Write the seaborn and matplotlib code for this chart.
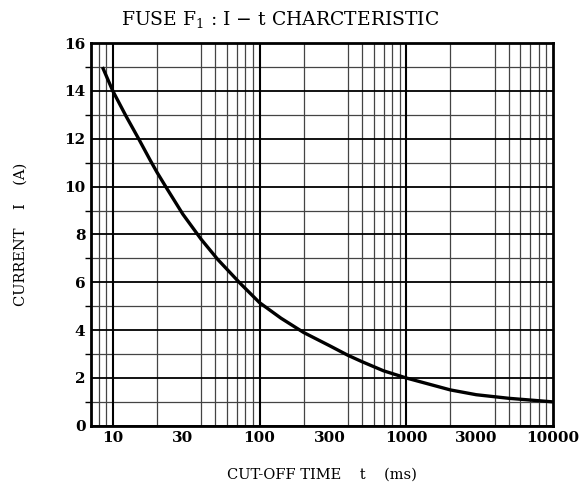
import numpy as np
import pandas as pd
import matplotlib
matplotlib.use("Agg")
import matplotlib.pyplot as plt
import matplotlib.ticker as mticker
import seaborn as sns

tiempo_ms = [8.5, 10, 12.3, 15, 18, 20, 23.2, 30, 40, 52, 74, 100, 140, 200, 300, 400, 500, 700, 1000, 2000, 3000, 5000, 10000]
corriente_a = [15.0, 14.0, 12.95, 12.0, 11.1, 10.6, 9.95, 8.85, 7.8, 6.95, 5.95, 5.15, 4.5, 3.9, 3.35, 2.95, 2.68, 2.3, 2.0, 1.5, 1.3, 1.15, 1.0]
xticks = [10, 30, 100, 300, 1000, 3000, 10000]
yticks = [0, 2, 4, 6, 8, 10, 12, 14, 16]

df = pd.DataFrame({'t': tiempo_ms, 'I': corriente_a})

sns.set_style("white")
plt.rcParams['font.family'] = ['DejaVu Serif']
plt.rcParams['mathtext.fontset'] = 'dejavuserif'
plt.rcParams['text.color'] = 'black'
plt.rcParams['axes.labelcolor'] = 'black'
plt.rcParams['xtick.color'] = 'black'
plt.rcParams['ytick.color'] = 'black'

fig = plt.figure(figsize=(5.87, 4.90), dpi=100)
ax = fig.add_axes([0.155, 0.131, 0.787, 0.781])

sns.lineplot(data=df, x='t', y='I', color='black', linewidth=2.4, ax=ax, zorder=5,
             solid_joinstyle='round', solid_capstyle='butt')

ax.set_xscale('log')
ax.set_xlim(7.1, 10000)
ax.set_ylim(0, 16)

ax.xaxis.set_major_locator(mticker.FixedLocator(xticks))
ax.xaxis.set_major_formatter(mticker.FixedFormatter([str(v) for v in xticks]))
ax.xaxis.set_minor_locator(mticker.LogLocator(base=10, subs=np.arange(1, 10), numticks=20))
ax.xaxis.set_minor_formatter(mticker.NullFormatter())
ax.set_yticks(yticks)
ax.yaxis.set_minor_locator(mticker.MultipleLocator(1))

# rejilla
ax.grid(which='minor', axis='both', color='#444444', linewidth=0.9)
ax.grid(which='major', axis='y', color='black', linewidth=1.3)
for d in [10, 100, 1000]:
    ax.axvline(d, color='black', linewidth=1.5, zorder=2)

ax.tick_params(axis='both', which='major', labelsize=11, length=0, pad=4, labelcolor='black')
ax.tick_params(axis='y', which='minor', length=4, direction='out', left=True, width=1)
ax.tick_params(axis='x', which='minor', length=0)
for lab in ax.get_xticklabels() + ax.get_yticklabels():
    lab.set_fontweight('bold')

for s in ax.spines.values():
    s.set_linewidth(2)
    s.set_color('black')

fig.text(0.477, 0.96, r"FUSE F$_1$ : I $-$ t CHARCTERISTIC", fontsize=13.5,
         ha='center', va='center', color='black')
ax.set_xlabel("CUT-OFF TIME    t    (ms)", fontsize=10.5, labelpad=16)
ax.set_ylabel("CURRENT    I    (A)", fontsize=10.5, labelpad=26)

fig.savefig('out.png', dpi=100)
